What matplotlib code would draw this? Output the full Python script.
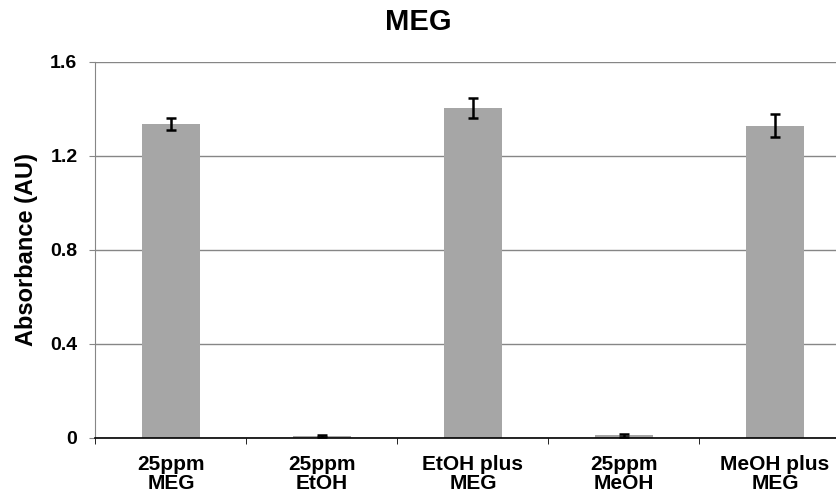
import matplotlib.pyplot as plt
import numpy as np

plt.rcParams['font.family'] = ['Liberation Sans', 'DejaVu Sans']

# data
labels = ["25ppm\nMEG", "25ppm\nEtOH", "EtOH plus\nMEG", "25ppm\nMeOH", "MeOH plus\nMEG"]
absorbance = [1.336, 0.010, 1.404, 0.012, 1.328]
errors = [0.026, 0.004, 0.043, 0.006, 0.049]
yticks = [0, 0.4, 0.8, 1.2, 1.6]

fig = plt.figure(figsize=(8.37, 5.0), dpi=100)
ax = fig.add_axes([95.5 / 837, 62 / 500, 755 / 837, 376 / 500])

x = np.arange(len(labels))
ax.bar(x, absorbance, width=0.39, color="#A6A6A6", zorder=2,
       yerr=errors, capsize=3.5,
       error_kw=dict(ecolor="black", elinewidth=1.8, capthick=1.8, zorder=3))

ax.set_xlim(-0.5, 4.5)
ax.set_ylim(0, 1.6)
ax.set_yticks(yticks)
ax.set_yticklabels(["0", "0.4", "0.8", "1.2", "1.6"], fontsize=14, fontweight="bold")
ax.yaxis.grid(True, color="#868686", linewidth=1)
ax.set_axisbelow(True)

ax.set_xticks(x)
ax.set_xticklabels(labels, fontsize=15, fontweight="bold", linespacing=1.0)
ax.tick_params(axis="x", which="major", length=0, pad=12)
ax.set_xticks(np.arange(-0.5, 5, 1), minor=True)
ax.tick_params(axis="x", which="minor", length=4, direction="out", color="black")
ax.tick_params(axis="y", length=4, direction="out", color="#868686", pad=9)

for s in ["top", "right"]:
    ax.spines[s].set_visible(False)
ax.spines["left"].set_color("#868686")
ax.spines["bottom"].set_color("black")
ax.spines["bottom"].set_linewidth(1.2)

ax.set_ylabel("Absorbance (AU)", fontsize=17, fontweight="bold", labelpad=9)
fig.text(0.5, 0.955, "MEG", ha="center", va="center", fontsize=21, fontweight="bold")

fig.savefig("out.png", dpi=100)
